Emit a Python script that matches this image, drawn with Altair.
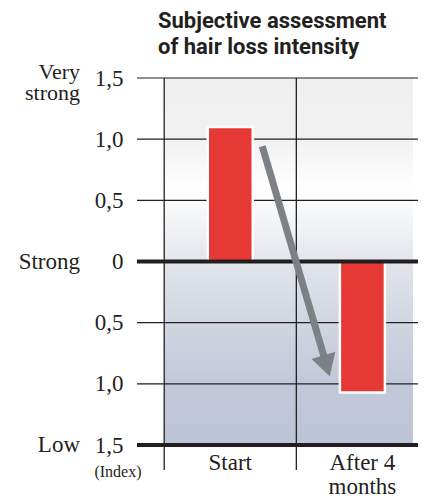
import altair as alt
import pandas as pd

# ---- data ----
title_text = ["Subjective assessment\nof hair loss intensity"]
categories = ["Start", "After 4 months"]
category_labels = ["Start", "After 4\nmonths"]
category_pos = [0, 1]
values = [1.10, -1.07]

y_ticks = [1.5, 1.0, 0.5, 0.0, -0.5, -1.0, -1.5]
thick_levels = [0.0, -1.5]
boundaries = [-0.5, 0.5]

level_names_single = ["Strong", "Low"]
level_values_single = [0.0, -1.5]
level_names_double = ["Very\nstrong"]
level_values_double = [1.5]
index_note = ["(Index)"]

arrow_x = [0.242, 0.721]
arrow_y = [0.943, -0.82]
arrow_tip_x = [0.753]
arrow_tip_y = [-0.938]

x_domain = [-0.668, 1.383]
y_domain = [-1.5, 1.5]

# ---- styling ----
SERIF = "Liberation Serif, Times New Roman, serif"
SANS_N = "Roboto, Liberation Sans, sans-serif"
LINE = "#231f20"
RED = "#e63834"
GREY = "#7d8084"

xs = alt.Scale(domain=x_domain, nice=False, zero=False)
ys = alt.Scale(domain=y_domain, nice=False, zero=False)
y_axis = alt.Axis(
    values=y_ticks,
    labelExpr="datum.value == 0 ? '0' : replace(format(abs(datum.value), '.1f'), '.', ',')",
    labelFont=SERIF, labelFontSize=23, labelColor="#231f20", labelPadding=14,
    domain=False, ticks=False, grid=False, title=None, labelBaseline="middle",
)
x_axis = None

bars_df = pd.DataFrame({"cat": categories, "pos": category_pos, "v": values,
                        "label": category_labels})
grid_df = pd.DataFrame({"v": y_ticks})
thick_df = pd.DataFrame({"v": thick_levels})
bound_df = pd.DataFrame({"b": boundaries})
bg_df = pd.DataFrame({"x0": [boundaries[0]], "x1": [x_domain[1]],
                      "y0": [y_domain[1]], "y1": [y_domain[0]]})
lvl1_df = pd.DataFrame({"name": level_names_single, "v": level_values_single})
lvl2_df = pd.DataFrame({"name": level_names_double, "v": level_values_double})
idx_df = pd.DataFrame({"t": index_note, "v": [y_domain[0]]})
arrow_df = pd.DataFrame({"x": arrow_x, "y": arrow_y})
tip_df = pd.DataFrame({"x": arrow_tip_x, "y": arrow_tip_y})
title_df = pd.DataFrame({"t": title_text, "v": [y_domain[1]]})

gradient = alt.LinearGradient(
    gradient="linear",
    stops=[
        alt.GradientStop(color="#eeefee", offset=0),
        alt.GradientStop(color="#f0f1f0", offset=0.17),
        alt.GradientStop(color="#ffffff", offset=0.30),
        alt.GradientStop(color="#f7f8f9", offset=0.36),
        alt.GradientStop(color="#e2e5eb", offset=0.5),
        alt.GradientStop(color="#d0d5e1", offset=0.67),
        alt.GradientStop(color="#c1c8d9", offset=0.83),
        alt.GradientStop(color="#bcc5d7", offset=1),
    ],
    x1=0, x2=0, y1=0, y2=1,
)

bg = alt.Chart(bg_df).mark_rect(fill=gradient).encode(
    x=alt.X("x0:Q", scale=xs, axis=x_axis), x2="x1:Q",
    y=alt.Y("y0:Q", scale=ys, axis=y_axis), y2="y1:Q",
)

grid = alt.Chart(grid_df).mark_rule(color=LINE, strokeWidth=1.2).encode(
    y=alt.Y("v:Q", scale=ys, axis=y_axis),
)

bounds = alt.Chart(bound_df).mark_rule(color=LINE, strokeWidth=1.3, y2Offset=25).encode(
    x=alt.X("b:Q", scale=xs, axis=x_axis),
    y=alt.datum(y_domain[1], scale=ys, axis=y_axis),
    y2=alt.datum(y_domain[0]),
)

bars = alt.Chart(bars_df).mark_bar(size=45, color=RED, stroke="white", strokeWidth=2.5).encode(
    x=alt.X("pos:Q", scale=xs, axis=x_axis),
    y=alt.Y("v:Q", scale=ys, axis=y_axis),
    y2=alt.datum(0),
)

thick = alt.Chart(thick_df).mark_rule(color=LINE, strokeWidth=4).encode(
    y=alt.Y("v:Q", scale=ys, axis=y_axis),
)

arrow = alt.Chart(arrow_df).mark_line(color=GREY, strokeWidth=7, strokeCap="butt").encode(
    x=alt.X("x:Q", scale=xs, axis=x_axis),
    y=alt.Y("y:Q", scale=ys, axis=y_axis),
)

tip = alt.Chart(tip_df).mark_point(
    shape="M0,0L-1,-1.75L1,-1.75Z", size=620, angle=343, filled=True,
    color=GREY, opacity=1, strokeWidth=0,
).encode(
    x=alt.X("x:Q", scale=xs, axis=x_axis),
    y=alt.Y("y:Q", scale=ys, axis=y_axis),
)

cat_text = alt.Chart(bars_df).mark_text(
    font=SERIF, fontSize=23, color="#231f20", align="center", baseline="alphabetic",
    dy=25, lineBreak="\n", lineHeight=23.5,
).encode(
    x=alt.X("pos:Q", scale=xs, axis=x_axis),
    y=alt.datum(y_domain[0], scale=ys, axis=y_axis),
    text="label:N",
)

lvl1 = alt.Chart(lvl1_df).mark_text(
    font=SERIF, fontSize=23, color="#231f20", align="right", baseline="middle",
).encode(
    x=alt.value(-57),
    y=alt.Y("v:Q", scale=ys, axis=y_axis),
    text="name:N",
)

lvl2 = alt.Chart(lvl2_df).mark_text(
    font=SERIF, fontSize=22, color="#231f20", align="right", baseline="middle",
    lineBreak="\n", lineHeight=21, dy=-6,
).encode(
    x=alt.value(-57),
    y=alt.Y("v:Q", scale=ys, axis=y_axis),
    text="name:N",
)

idx = alt.Chart(idx_df).mark_text(
    font=SERIF, fontSize=16, color="#231f20", align="center", baseline="alphabetic", dy=32,
).encode(
    x=alt.value(-19),
    y=alt.Y("v:Q", scale=ys, axis=y_axis),
    text="t:N",
)

title = alt.Chart(title_df).mark_text(
    font=SANS_N, fontSize=22, fontWeight="bold", color="#231f20", align="left",
    baseline="alphabetic", lineBreak="\n", lineHeight=25.5, dy=-50,
).encode(
    x=alt.value(21),
    y=alt.Y("v:Q", scale=ys, axis=y_axis),
    text="t:N",
)

chart = alt.layer(
    bg, grid, bounds, bars, thick, arrow, tip, cat_text, lvl1, lvl2, idx, title
).properties(
    width=281, height=367,
    padding={"left": 129, "top": 70, "right": 0, "bottom": 51},
    autosize=alt.AutoSizeParams(type="none"),
).configure_view(strokeWidth=0)

chart.save("out.html", embed_options={"renderer": "svg", "actions": False})
